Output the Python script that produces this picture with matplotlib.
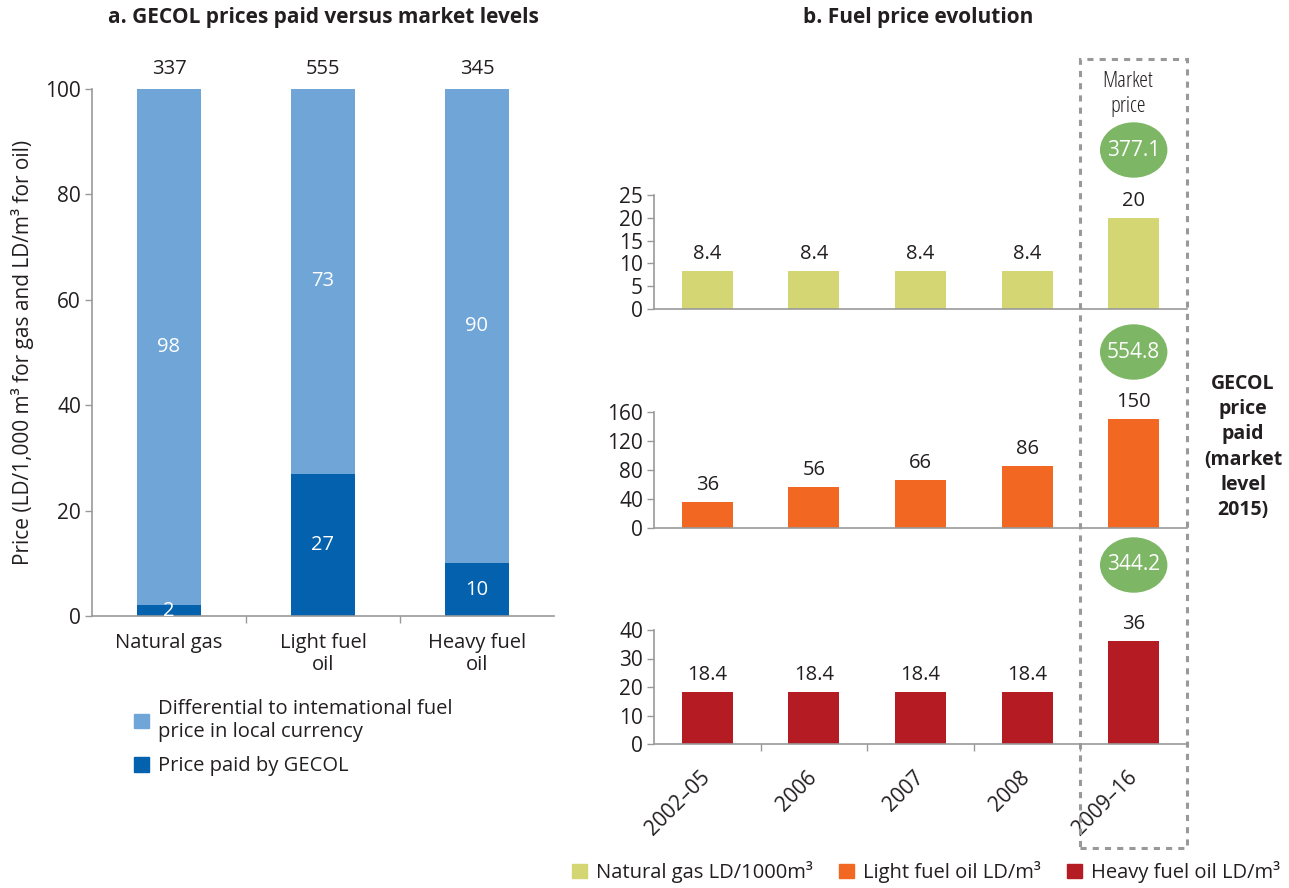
import matplotlib
matplotlib.use("Agg")
import matplotlib.pyplot as plt
from matplotlib.patches import Ellipse, Rectangle, Patch

plt.rcParams['font.family'] = ['Open Sans', 'DejaVu Sans']
plt.rcParams['text.color'] = '#231f20'
plt.rcParams['axes.labelcolor'] = '#231f20'
plt.rcParams['xtick.color'] = '#999999'
plt.rcParams['ytick.color'] = '#999999'
plt.rcParams['xtick.labelcolor'] = '#231f20'
plt.rcParams['ytick.labelcolor'] = '#231f20'

# ---- data: panel a ----
fuels = ['Natural gas', 'Light fuel\noil', 'Heavy fuel\noil']
paid = [2, 27, 10]
differential = [98, 73, 90]
market_totals = ['337', '555', '345']

# ---- data: panel b ----
periods = ['2002–05', '2006', '2007', '2008', '2009–16']
gas_prices = [8.4, 8.4, 8.4, 8.4, 20]
light_prices = [36, 56, 66, 86, 150]
heavy_prices = [18.4, 18.4, 18.4, 18.4, 36]
market_prices = ['377.1', '554.8', '344.2']

light_blue = '#6fa5d7'
dark_blue = '#0461ad'
gas_col = '#d3d673'
light_col = '#f26722'
heavy_col = '#b51b23'
green = '#7db665'
grey = '#999999'

FS = 14.5

W, H = 1289, 888
fig = plt.figure(figsize=(W / 100, H / 100), dpi=100)


def box(x0, y0, x1, y1):
    # pixel box (top-left origin) -> figure fraction rect
    return [x0 / W, 1 - y1 / H, (x1 - x0) / W, (y1 - y0) / H]


def style(ax):
    for s in ['top', 'right']:
        ax.spines[s].set_visible(False)
    for s in ['left', 'bottom']:
        ax.spines[s].set_color(grey)
        ax.spines[s].set_linewidth(1.2)
    ax.tick_params(axis='y', length=5, width=1, labelsize=15, pad=3)


# =============================================================================
# panel a
# =============================================================================
ax = fig.add_axes(box(92, 89, 554, 616))
style(ax)
x = list(range(len(fuels)))
ax.bar(x, paid, width=0.41, color=dark_blue)
ax.bar(x, differential, width=0.41, bottom=paid, color=light_blue)
ax.set_xlim(-0.5, 2.5)
ax.set_ylim(0, 100)
ax.set_yticks([0, 20, 40, 60, 80, 100])
ax.set_xticks(x)
ax.set_xticklabels(fuels, fontsize=FS, linespacing=1.15)
ax.tick_params(axis='x', which='major', length=0, pad=12)
ax.set_xticks([0.5, 1.5], minor=True)
ax.tick_params(axis='x', which='minor', length=5, width=1)
ax.set_ylabel('Price (LD/1,000 m³ for gas and LD/m³ for oil)', fontsize=15, labelpad=8)

for i in x:
    ax.text(i, paid[i] / 2, str(paid[i]), color='white', ha='center', va='center', fontsize=FS)
    ax.text(i, paid[i] + differential[i] / 2, str(differential[i]), color='white',
            ha='center', va='center', fontsize=FS)
    ax.annotate(market_totals[i], (i, 100), xytext=(0, 7), textcoords='offset points',
                ha='center', va='bottom', fontsize=FS)

fig.text(323 / W, 1 - 18 / H, 'a. GECOL prices paid versus market levels',
         ha='center', va='center', fontsize=15, fontweight='bold')

fig.legend(handles=[Patch(color=light_blue), Patch(color=dark_blue)],
           labels=['Differential to intemational fuel\nprice in local currency',
                   'Price paid by GECOL'],
           loc='upper left', bbox_to_anchor=(116 / W, 1 - 681 / H), frameon=False,
           fontsize=FS, handlelength=0.75, handleheight=0.75, handletextpad=0.45,
           labelspacing=0.7)

# =============================================================================
# panel b
# =============================================================================
panels = [
    (gas_prices, gas_col, (195, 309), [0, 5, 10, 15, 20, 25]),
    (light_prices, light_col, (412, 528), [0, 40, 80, 120, 160]),
    (heavy_prices, heavy_col, (630, 744), [0, 10, 20, 30, 40]),
]
xb = list(range(len(periods)))
axes_b = []
for vals, col, (top, bot), ticks in panels:
    a = fig.add_axes(box(654, top, 1187, bot))
    style(a)
    a.bar(xb, vals, width=0.48, color=col)
    a.set_xlim(-0.5, 4.5)
    a.set_ylim(0, ticks[-1])
    a.set_yticks(ticks)
    a.set_xticks([])
    for i, v in zip(xb, vals):
        a.annotate(f'{v:g}', (i, v), xytext=(0, 5), textcoords='offset points',
                   ha='center', va='bottom', fontsize=FS)
    axes_b.append(a)

last = axes_b[-1]
last.set_xticks(xb)
last.set_xticklabels(periods, rotation=45, ha='right', va='center',
                     rotation_mode='anchor', fontsize=15)
last.tick_params(axis='x', which='major', length=0, pad=22)
last.set_xticks([0.5, 1.5, 2.5, 3.5], minor=True)
last.tick_params(axis='x', which='minor', length=5, width=1)

fig.text(918 / W, 1 - 18 / H, 'b. Fuel price evolution',
         ha='center', va='center', fontsize=15, fontweight='bold')

# dashed box around market column
to_fig = fig.transFigure.inverted()
bx0 = to_fig.transform(last.transData.transform((3.5, 0)))[0]
bx1 = to_fig.transform(last.transData.transform((4.5, 0)))[0]
cx = to_fig.transform(last.transData.transform((4, 0)))[0]
fig.patches.append(Rectangle((bx0, 1 - 848 / H), bx1 - bx0, (848 - 59) / H,
                             transform=fig.transFigure, fill=False, edgecolor=grey,
                             linestyle=(0, (2, 2)), linewidth=2.2, zorder=5))

fig.text(cx - 6 / W, 1 - 94 / H, 'Market\nprice', ha='center', va='center',
         fontsize=16, linespacing=1.2, stretch='condensed')

for label, yc in zip(market_prices, [150, 352, 565]):
    fig.patches.append(Ellipse((cx, 1 - yc / H), 66 / W, 54 / H, transform=fig.transFigure,
                               color=green, zorder=6))
    fig.text(cx, 1 - yc / H, label, ha='center', va='center', color='white',
             fontsize=15, zorder=7)

fig.text(1243 / W, 1 - 447 / H, 'GECOL\nprice\npaid\n(market\nlevel\n2015)',
         ha='center', va='center', fontsize=14, fontweight='bold', linespacing=1.35)

fig.legend(handles=[Patch(color=gas_col), Patch(color=light_col), Patch(color=heavy_col)],
           labels=['Natural gas LD/1000m³', 'Light fuel oil LD/m³', 'Heavy fuel oil LD/m³'],
           loc='center', bbox_to_anchor=(926 / W, 1 - 872 / H), ncol=3, frameon=False,
           fontsize=FS, handlelength=0.75, handleheight=0.75, handletextpad=0.45,
           columnspacing=1.3)

fig.savefig('out.png', dpi=100)
